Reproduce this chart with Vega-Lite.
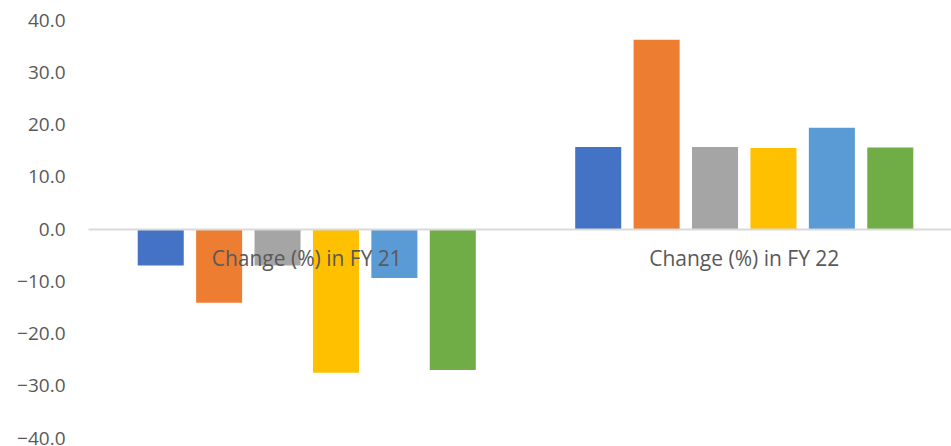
{
  "$schema": "https://vega.github.io/schema/vega-lite/v6.json",
  "width": 863,
  "height": 418,
  "autosize": {"type": "none"},
  "padding": {"left": 88, "top": 20, "right": 0, "bottom": 8},
  "background": "white",
  "config": {"view": {"stroke": null}, "font": "Open Sans"},
  "data": {
    "values": [
      {"period": "Change (%) in FY 21", "series": "Series 1", "value": -7.0},
      {"period": "Change (%) in FY 21", "series": "Series 2", "value": -14.1},
      {"period": "Change (%) in FY 21", "series": "Series 3", "value": -7.0},
      {"period": "Change (%) in FY 21", "series": "Series 4", "value": -27.5},
      {"period": "Change (%) in FY 21", "series": "Series 5", "value": -9.4},
      {"period": "Change (%) in FY 21", "series": "Series 6", "value": -27.0},
      {"period": "Change (%) in FY 22", "series": "Series 1", "value": 15.7},
      {"period": "Change (%) in FY 22", "series": "Series 2", "value": 36.2},
      {"period": "Change (%) in FY 22", "series": "Series 3", "value": 15.7},
      {"period": "Change (%) in FY 22", "series": "Series 4", "value": 15.5},
      {"period": "Change (%) in FY 22", "series": "Series 5", "value": 19.4},
      {"period": "Change (%) in FY 22", "series": "Series 6", "value": 15.6}
    ]
  },
  "mark": {"type": "bar"},
  "encoding": {
    "x": {
      "field": "period",
      "type": "nominal",
      "sort": null,
      "scale": {"range": [0, 875], "paddingInner": 0, "paddingOuter": 0},
      "axis": {
        "title": null,
        "orient": "bottom",
        "offset": -209,
        "zindex": 1,
        "domainColor": "#D9D9D9",
        "domainWidth": 2,
        "ticks": false,
        "labelFontSize": 21,
        "labelColor": "#595959",
        "labelPadding": 19,
        "labelLimit": 0,
        "labelAngle": 0
      }
    },
    "xOffset": {
      "field": "series",
      "type": "nominal",
      "sort": null,
      "scale": {"paddingInner": 0.212, "paddingOuter": 0.851}
    },
    "y": {
      "field": "value",
      "type": "quantitative",
      "scale": {"domain": [-40, 40], "nice": false, "zero": false},
      "axis": {
        "title": null,
        "grid": false,
        "domain": false,
        "ticks": false,
        "values": [-40, -30, -20, -10, 0, 10, 20, 30, 40],
        "format": ".1f",
        "labelFontSize": 19,
        "labelColor": "#595959",
        "labelPadding": 23
      }
    },
    "color": {
      "field": "series",
      "type": "nominal",
      "sort": null,
      "scale": {"range": ["#4472C4", "#ED7D31", "#A5A5A5", "#FFC000", "#5B9BD5", "#70AD47"]},
      "legend": null
    }
  }
}
